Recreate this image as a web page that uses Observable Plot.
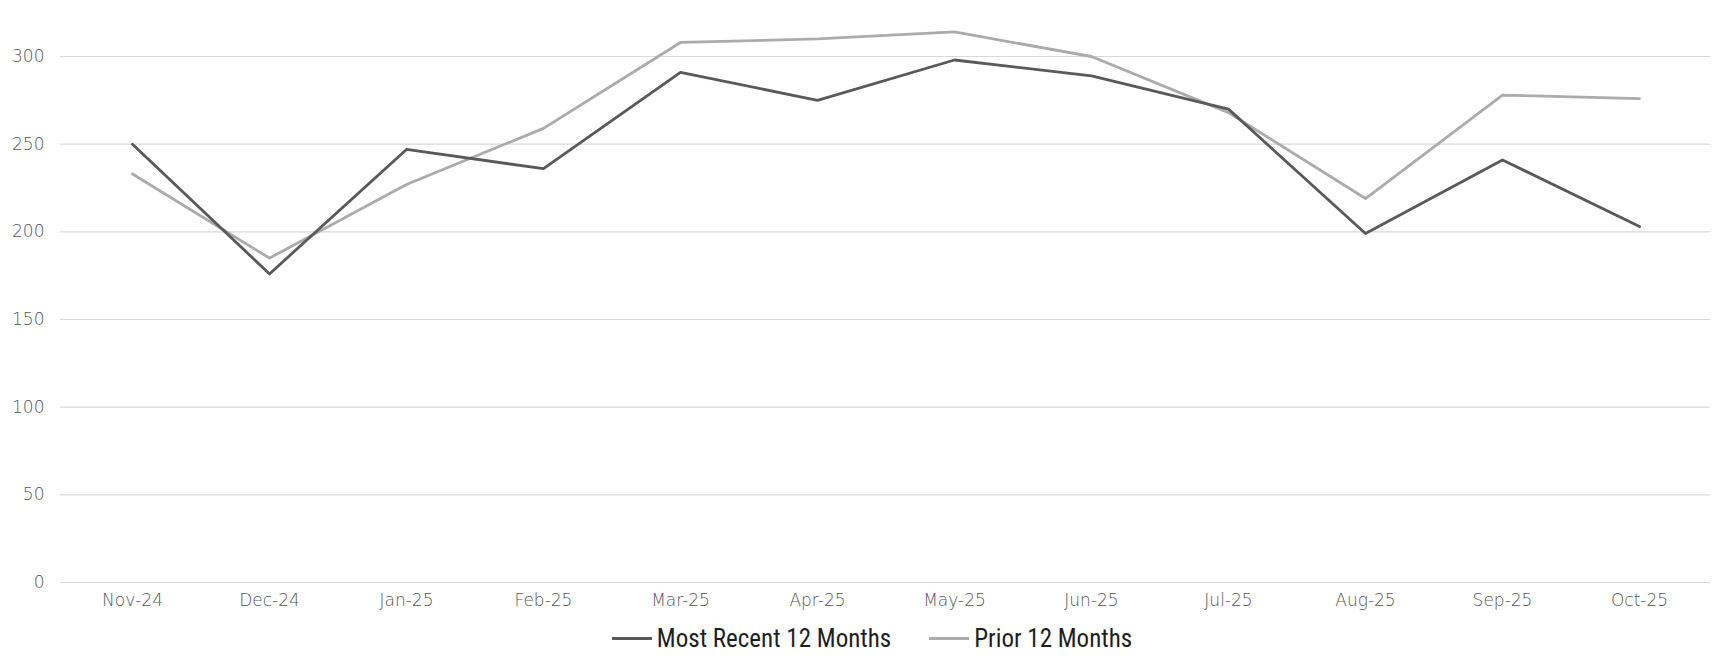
<!DOCTYPE html>
<html>
<head>
<meta charset="utf-8">
<script src="https://cdn.jsdelivr.net/npm/d3@7"></script>
<script src="https://cdn.jsdelivr.net/npm/@observablehq/plot@0.6"></script>
<style>
  html, body { margin: 0; padding: 0; background: #fff; }
  #chart svg { display: block; }
  .legend { display: flex; justify-content: center; align-items: center; height: 36px; gap: 38px;
    font-family: "Liberation Sans Narrow", "Arial Narrow", "Roboto Condensed", sans-serif; font-size: 25px; color: #1e1e1e; margin-left: 26px; }
  .legend span.item { display: flex; align-items: center; }
  .legend span.sw { display: inline-block; width: 40px; height: 3px; margin-right: 5px; }
</style>
</head>
<body>
<div id="chart"></div>
<script>
const months = ["Nov-24","Dec-24","Jan-25","Feb-25","Mar-25","Apr-25","May-25","Jun-25","Jul-25","Aug-25","Sep-25","Oct-25"];
const mostRecent = [250, 176, 247, 236, 291, 275, 298, 289, 270, 199, 241, 203];
const prior = [233, 185, 227, 259, 308, 310, 314, 300, 268, 219, 278, 276];
const seriesNames = ["Most Recent 12 Months", "Prior 12 Months"];
const seriesColors = ["#595959", "#ababab"];
const yTicks = [0, 50, 100, 150, 200, 250, 300];

const rows = [];
months.forEach((m, i) => {
  rows.push({month: m, value: mostRecent[i], series: seriesNames[0]});
  rows.push({month: m, value: prior[i], series: seriesNames[1]});
});

const chart = Plot.plot({
  width: 1718,
  height: 620,
  marginTop: 56,
  marginBottom: 38,
  marginLeft: 60,
  marginRight: 8,
  style: { fontFamily: "'DejaVu Sans', sans-serif", fontSize: "17px", fontWeight: 300, color: "#555", background: "#fff" },
  x: { type: "point", domain: months, padding: 0.5, label: null, tickSize: 0, tickPadding: 11 },
  y: { domain: [0, 300], ticks: yTicks, label: null, tickSize: 0, tickPadding: 16 },
  color: { domain: seriesNames, range: seriesColors },
  marks: [
    Plot.gridY(yTicks, { stroke: "#d9d9d9", strokeOpacity: 1, strokeWidth: 1.2 }),
    Plot.line(rows.filter(d => d.series === seriesNames[1]), { x: "month", y: "value", stroke: "series", strokeWidth: 2.8 }),
    Plot.line(rows.filter(d => d.series === seriesNames[0]), { x: "month", y: "value", stroke: "series", strokeWidth: 2.8 })
  ]
});
document.getElementById("chart").appendChild(chart);

const legend = document.createElement("div");
legend.className = "legend";
seriesNames.forEach((name, i) => {
  const item = document.createElement("span");
  item.className = "item";
  const sw = document.createElement("span");
  sw.className = "sw";
  sw.style.background = seriesColors[i];
  item.appendChild(sw);
  item.appendChild(document.createTextNode(name));
  legend.appendChild(item);
});
document.getElementById("chart").appendChild(legend);
</script>
</body>
</html>
